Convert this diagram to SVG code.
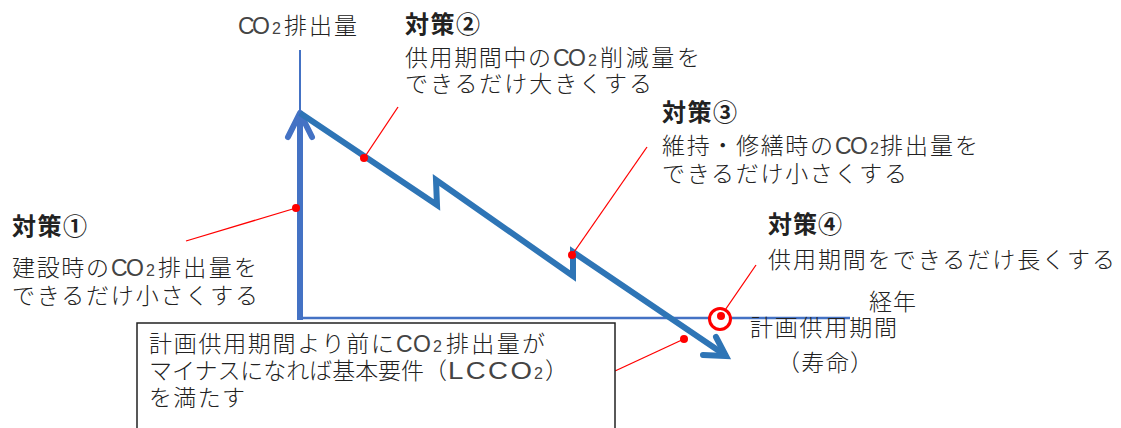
<svg xmlns="http://www.w3.org/2000/svg" width="1121" height="428" viewBox="0 0 1121 428">
<style>
  text { font-family: "Liberation Sans", "Noto Sans CJK JP", sans-serif; font-size: 23px; font-weight: 300; fill: #222; }
  .h { font-weight: bold; font-size: 24px; }
  .lat { fill: #444; }
  .sub { font-size: 16px; fill: #444; }
  .axis { stroke: #4472C4; fill: none; }
  .trend { stroke: #2E75B6; stroke-width: 6; fill: none; }
  .lead { stroke: #FF0000; stroke-width: 1.3; fill: none; }
  .dot { fill: #FF0000; }
</style>
<rect width="1121" height="428" fill="#fff"/>

<g id="axes">
  <line class="axis" x1="300" y1="50" x2="300" y2="318" stroke-width="2"/>
  <line class="axis" x1="300" y1="318" x2="850" y2="318" stroke-width="2.5"/>
  <line class="axis" x1="300" y1="320" x2="300" y2="114" stroke-width="6"/>
  <polyline class="axis" points="288,137 300,113 312,137" stroke-width="6" stroke-linecap="round" stroke-linejoin="round"/>
</g>

<g id="connectors">
  <polyline class="trend" points="300,113 437,205 436,180 573,276 573,252 725,355" stroke-linejoin="miter" stroke-miterlimit="10"/>
  <polyline class="trend" points="703,355 726,356 716,337" stroke-linecap="round" stroke-linejoin="miter"/>
  <line class="lead" x1="296" y1="208" x2="186" y2="241"/>
  <line class="lead" x1="364" y1="158" x2="398" y2="107"/>
  <line class="lead" x1="572" y1="255" x2="647" y2="147"/>
  <line class="lead" x1="721" y1="316" x2="756" y2="265"/>
  <line class="lead" x1="684" y1="339" x2="615" y2="371"/>
</g>

<g id="markers">
  <circle class="dot" cx="296" cy="208" r="4"/>
  <circle class="dot" cx="364" cy="158" r="4"/>
  <circle class="dot" cx="572" cy="255" r="4"/>
  <circle class="dot" cx="684" cy="339" r="4"/>
  <circle cx="720" cy="319" r="10.5" fill="#fff" stroke="#FF0000" stroke-width="3"/>
  <circle class="dot" cx="721" cy="316" r="4"/>
</g>

<g id="label-y">
  <text class="lat" x="238" y="33.5" textLength="32" lengthAdjust="spacing">CO</text>
  <text class="sub" x="272" y="33.5">2</text>
  <text x="284" y="33.5" textLength="73" lengthAdjust="spacing">排出量</text>
</g>

<g id="measure2">
  <text class="h" x="405" y="33" textLength="75" lengthAdjust="spacing">対策②</text>
  <text x="405" y="65.5" textLength="146" lengthAdjust="spacing">供用期間中の</text>
  <text class="lat" x="553" y="65.5" textLength="33" lengthAdjust="spacing">CO</text>
  <text class="sub" x="588" y="65.5">2</text>
  <text x="600" y="65.5" textLength="100" lengthAdjust="spacing">削減量を</text>
  <text x="405" y="91.5" textLength="247" lengthAdjust="spacing">できるだけ大きくする</text>
</g>

<g id="measure3">
  <text class="h" x="662" y="121" textLength="75" lengthAdjust="spacing">対策③</text>
  <text x="662" y="153.5" textLength="171" lengthAdjust="spacing">維持・修繕時の</text>
  <text class="lat" x="835" y="153.5" textLength="33" lengthAdjust="spacing">CO</text>
  <text class="sub" x="870" y="153.5">2</text>
  <text x="880" y="153.5" textLength="98" lengthAdjust="spacing">排出量を</text>
  <text x="662" y="181.5" textLength="245" lengthAdjust="spacing">できるだけ小さくする</text>
</g>

<g id="measure1">
  <text class="h" x="12" y="235" textLength="75" lengthAdjust="spacing">対策①</text>
  <text x="12" y="275.5" textLength="97" lengthAdjust="spacing">建設時の</text>
  <text class="lat" x="111" y="275.5" textLength="33" lengthAdjust="spacing">CO</text>
  <text class="sub" x="146" y="275.5">2</text>
  <text x="158" y="275.5" textLength="99" lengthAdjust="spacing">排出量を</text>
  <text x="12" y="303.5" textLength="246" lengthAdjust="spacing">できるだけ小さくする</text>
</g>

<g id="measure4">
  <text class="h" x="768" y="233" textLength="74" lengthAdjust="spacing">対策④</text>
  <text x="768" y="268" textLength="347" lengthAdjust="spacing">供用期間をできるだけ長くする</text>
</g>

<g id="label-x">
  <text x="869" y="309.5" textLength="47" lengthAdjust="spacing">経年</text>
  <text x="750" y="335.5" textLength="147" lengthAdjust="spacing">計画供用期間</text>
  <text x="777" y="371" textLength="96" lengthAdjust="spacing">（寿命）</text>
</g>

<g id="note">
  <rect x="137" y="323" width="478" height="120" fill="#fff" stroke="#222" stroke-width="1.5"/>
  <text x="149" y="352" textLength="245" lengthAdjust="spacing">計画供用期間より前に</text>
  <text class="lat" x="396" y="352" textLength="35" lengthAdjust="spacing">CO</text>
  <text class="sub" x="433" y="352">2</text>
  <text x="446" y="352" textLength="99" lengthAdjust="spacing">排出量が</text>
  <text x="149" y="379" textLength="298" lengthAdjust="spacing">マイナスになれば基本要件（</text>
  <text class="lat" transform="translate(448,379) scale(1.15,1)" x="0" y="0" textLength="73" lengthAdjust="spacing" style="font-size:24px">LCCO</text>
  <text class="sub" x="534" y="379">2</text>
  <text x="545" y="379">）</text>
  <text x="149" y="405.5" textLength="96" lengthAdjust="spacing">を満たす</text>
</g>
</svg>
